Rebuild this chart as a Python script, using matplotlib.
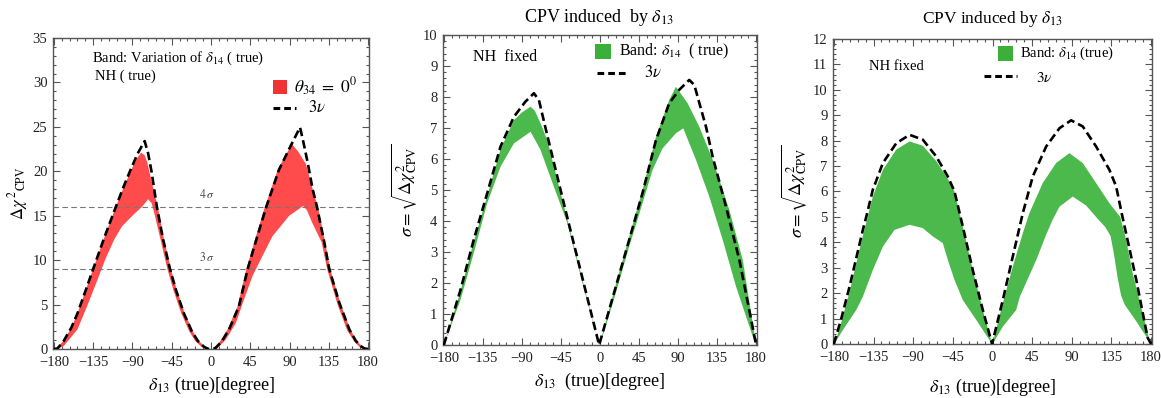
import numpy as np
import matplotlib
matplotlib.use("Agg")
import matplotlib.pyplot as plt
from matplotlib.patches import Rectangle
from matplotlib.lines import Line2D
from matplotlib.ticker import MultipleLocator

plt.rcParams['font.family'] = ['Liberation Serif', 'DejaVu Serif']
plt.rcParams['mathtext.fontset'] = 'stix'

W, H = 1161, 398

# ---------------- Panel 1 : Delta chi^2 ----------------
p1_3nu_x = [-180, -176, -169, -160, -153, -145, -135, -122, -109, -100, -92, -84, -76, -72, -68, -62,
            -55, -47, -40, -31, -22, -15, -8, -3, 0, 5, 12, 20.7, 32, 42, 51, 63, 78, 91.5, 102, 106,
            110.7, 116.4, 121.4, 129.8, 135.5, 147, 158.5, 166, 172, 176, 180]
p1_3nu_y = [0, 0.05, 0.86, 2.4, 4.0, 6.2, 9.0, 12.6, 16.0, 18.3, 20.2, 22.0, 23.4, 22.0, 19.9, 16.0,
            12.4, 9.0, 6.6, 4.0, 2.0, 0.9, 0.25, 0.0, 0.02, 0.1, 0.8, 2.2, 4.8, 9.0, 12.0, 15.9, 20.2, 22.9,
            24.95, 23.2, 21.0, 18.0, 16.0, 12.0, 9.0, 5.2, 2.2, 0.9, 0.3, 0.05, 0.0]

p1_b1_up_x = [-178, -169, -160, -153, -145, -135, -122, -109, -100, -92, -86, -80, -76, -73, -67, -61,
              -54, -46, -39, -30, -21, -14, -7, -2]
p1_b1_up_y = [0, 0.9, 2.4, 4.0, 6.2, 9.0, 12.6, 16.0, 18.2, 20.0, 21.3, 22.1, 21.8, 21.0, 18.4, 16.0,
              12.4, 9.0, 6.6, 4.0, 2.0, 0.9, 0.25, 0]
p1_b1_lo_x = [-178, -169, -153, -142, -130, -121, -111, -102, -88, -79, -72, -68, -65, -58, -50, -43,
              -34, -25, -18, -11, -5]
p1_b1_lo_y = [0, 0.3, 2.2, 4.8, 7.8, 10.1, 12.3, 13.8, 15.2, 16.0, 16.86, 16.4, 15.3, 12.4, 9.0, 6.6,
              4.0, 2.0, 0.9, 0.25, 0]

p1_b2_up_x = [2, 10, 19, 30.5, 40.5, 49.5, 61.5, 76.5, 92.7, 100, 108.8, 116.4, 122.4, 130.8, 136.5,
              148, 159.5, 167, 173, 178]
p1_b2_up_y = [0, 0.8, 2.2, 4.8, 9.0, 12.0, 15.9, 20.2, 23.07, 22.2, 20.8, 18.0, 16.0, 12.0, 9.0,
              5.2, 2.2, 0.9, 0.3, 0]
p1_b2_lo_x = [3, 7, 16.9, 28.4, 37.9, 47.5, 57.1, 70.5, 89.6, 105.7, 110, 116, 126.8, 133, 145, 156,
              164, 170, 175]
p1_b2_lo_y = [0, 0.05, 1.05, 2.9, 5.6, 8.2, 10.1, 12.7, 15.0, 16.1, 15.6, 14.2, 12.0, 9.0, 5.0, 2.1,
              0.85, 0.25, 0]

# ---------------- Panel 2 : sigma (first CPV plot) ----------------
p2_3nu_x = [-180, -160.9, -145.6, -130.1, -114.7, -99.3, -86, -76.2, -70.4, -60.7, -37.6, -18.4, -1,
            18.2, 33.6, 49.0, 64.4, 79.8, 91.3, 102.9, 108.7, 122.2, 129.9, 145.3, 160.7, 180]
p2_3nu_y = [0, 1.77, 3.39, 4.89, 6.4, 7.36, 7.85, 8.12, 7.9, 6.75, 4.1, 1.95, 0,
            1.88, 3.39, 4.9, 6.6, 7.8, 8.23, 8.55, 8.39, 7.04, 6.07, 4.46, 2.74, 0]

p2_b1_up_x = [-180, -160.9, -145.6, -130.1, -114.7, -99.3, -90, -80, -75, -68.5, -60.7, -37.6, -18.4, -1]
p2_b1_up_y = [0, 1.72, 3.32, 4.8, 6.3, 7.25, 7.5, 7.69, 7.55, 7.15, 6.6, 4.05, 1.9, 0]
p2_b1_lo_x = [-180, -160.9, -145.6, -130.1, -114.7, -99.3, -80, -68.5, -53.1, -37.6, -18.4, -1]
p2_b1_lo_y = [0, 1.45, 2.96, 4.57, 5.75, 6.5, 6.88, 6.29, 5.1, 3.93, 1.8, 0]

p2_b2_up_x = [-0.5, 18.2, 33.6, 49, 64.4, 79.8, 87.5, 101, 114.5, 130, 149.2, 164.6, 180]
p2_b2_up_y = [0, 1.95, 3.48, 5.0, 6.7, 7.9, 8.33, 7.8, 7.04, 5.97, 4.35, 2.74, 0]
p2_b2_lo_x = [0, 18.2, 33.6, 49, 60.6, 72.1, 87.5, 96, 110.7, 126.1, 141.5, 156.9, 177, 180]
p2_b2_lo_y = [0, 1.67, 3.17, 4.57, 5.65, 6.34, 6.83, 6.99, 5.97, 4.78, 3.39, 1.88, 0.2, 0]

# ---------------- Panel 3 : sigma (second CPV plot) ----------------
p3_3nu_x = [-180, -171.6, -162.2, -147.1, -143.3, -135.8, -124.4, -109.2, -94.1, -79.1, -63.9, -50.7,
            -43.1, -33.7, -22.4, -11, -0.5, 11.7, 23, 34.4, 45.7, 60.9, 76, 89.2, 102.4, 117.6, 132.7,
            140.3, 147.5, 163, 176, 180]
p3_3nu_y = [0, 1.0, 2.26, 4.49, 5.0, 6.07, 7.12, 7.9, 8.23, 8.04, 7.38, 6.59,
            6.0, 4.62, 2.91, 1.34, 0, 1.73, 3.44, 5.15, 6.59, 7.77, 8.49, 8.8, 8.56, 7.77, 6.85,
            6.2, 5.0, 2.55, 0.25, 0]

p3_b1_up_x = [-179, -171.6, -162.2, -147.1, -135.8, -124.4, -109.2, -94.1, -79.1, -63.9, -50.7, -43.1,
              -33.7, -22.4, -11, -0.5]
p3_b1_up_y = [0, 0.85, 2.05, 4.25, 5.8, 6.85, 7.65, 7.97, 7.8, 7.2, 6.5, 6.0,
              4.62, 2.91, 1.34, 0]
p3_b1_lo_x = [-179.5, -169.8, -154.6, -147.1, -135.8, -124.4, -111.2, -94.1, -79.1, -67.7, -56.4, -50.7,
              -43.1, -33.7, -18.5, -0.5]
p3_b1_lo_y = [0, 0.55, 1.34, 1.86, 2.91, 3.83, 4.49, 4.69, 4.56, 4.23, 3.97, 3.31,
              2.52, 1.73, 0.95, 0]

p3_b2_up_x = [0, 11.7, 23, 34.4, 41.9, 57, 72.2, 87.3, 102.4, 117.6, 132.7, 145, 151.6, 159.1, 170.5,
              178, 180]
p3_b2_up_y = [0, 1.6, 3.04, 4.36, 5.15, 6.33, 7.12, 7.51, 7.12, 6.33, 5.54, 5.0, 4.1, 2.78, 1.21,
              0.17, 0]
p3_b2_lo_x = [0, 11.7, 26.9, 31, 38, 49.6, 60.9, 68.4, 76, 91.1, 106.2, 120, 128, 134, 138, 142, 146,
              150, 163, 180]
p3_b2_lo_y = [0, 0.68, 1.34, 1.86, 2.4, 3.3, 4.3, 4.9, 5.4, 5.8, 5.45, 4.9, 4.6, 4.25, 3.5, 2.6, 1.9,
              1.55, 0.9, 0]

xticks = [-180, -135, -90, -45, 0, 45, 90, 135, 180]
sigma_levels = [16, 9]
sigma_labels = [r'$4\,\sigma$', r'$3\,\sigma$']

RED = '#ff4b4b'
RED_KEY = '#f03232'
GREEN = '#4cb94c'
GREEN_KEY = '#3aaf3a'
FRAME = '#555555'
DASH = (0, (3.2, 1.6))

fig = plt.figure(figsize=(W / 100, H / 100), dpi=100)


def box(l, t, r, b):
    return [l / W, 1 - b / H, (r - l) / W, (b - t) / H]


def fxy(px, py):
    return px / W, 1 - py / H


def style(ax, ymax, ymajor, yminor):
    ax.set_xlim(-181, 181)
    ax.set_ylim(0, ymax)
    ax.set_xticks(xticks)
    ax.xaxis.set_minor_locator(MultipleLocator(9))
    ax.yaxis.set_major_locator(MultipleLocator(ymajor))
    ax.yaxis.set_minor_locator(MultipleLocator(yminor))
    ax.tick_params(which='both', direction='in', top=True, right=True, colors=FRAME,
                   labelcolor='#222222', labelsize=10.5, width=0.8)
    ax.tick_params(which='major', length=5)
    ax.tick_params(which='minor', length=2.5)
    ax.tick_params(axis='x', which='major', pad=5)
    ax.tick_params(axis='y', which='major', pad=4)
    for s in ax.spines.values():
        s.set_color(FRAME)
        s.set_linewidth(1.0)


def band(ax, ux, uy, lx, ly, color):
    ax.fill(np.concatenate([ux, lx[::-1]]), np.concatenate([uy, ly[::-1]]),
            color=color, lw=0, zorder=2)


# ---- Panel 1
ax1 = fig.add_axes(box(53, 38, 369, 349))
style(ax1, 35, 5, 1)
band(ax1, np.array(p1_b1_up_x), np.array(p1_b1_up_y), np.array(p1_b1_lo_x), np.array(p1_b1_lo_y), RED)
band(ax1, np.array(p1_b2_up_x), np.array(p1_b2_up_y), np.array(p1_b2_lo_x), np.array(p1_b2_lo_y), RED)
ax1.plot(p1_3nu_x, p1_3nu_y, color='black', lw=1.9, ls=DASH, zorder=4)
for lev, lab in zip(sigma_levels, sigma_labels):
    ax1.axhline(lev, color='#777777', lw=0.8, ls=(0, (5, 3)), zorder=3)
    ax1.text(-5, lev + 0.6, lab, fontsize=8.5, color='#444444', ha='center', va='bottom')
ax1.set_xlabel(r'$\delta_{13}$ (true)[degree]', fontsize=13, labelpad=4)
ax1.set_ylabel(r'$\Delta\chi^{\,2}{}_{\rm CPV}$', fontsize=12, labelpad=2)
fig.text(*fxy(92, 58), r'Band: Variation of $\delta_{14}$ ( true)', fontsize=10.5, va='center', ha='left')
fig.text(*fxy(95, 76), 'NH ( true)', fontsize=10.5, va='center', ha='left')
fig.add_artist(Rectangle(fxy(272.5, 94), 14.5 / W, 14.5 / H, transform=fig.transFigure,
                         facecolor=RED_KEY, edgecolor='none'))
fig.text(*fxy(294, 87), r'$\theta_{34}\ =\ 0^0$', fontsize=12.5, va='center', ha='left')
x0, y0 = fxy(272.5, 108)
x1, _ = fxy(296, 108)
fig.add_artist(Line2D([x0, x1], [y0, y0], transform=fig.transFigure, color='black', lw=2.2,
                      ls=(0, (2.2, 1.3))))
fig.text(*fxy(308, 108), r'$3\nu$', fontsize=12, va='center', ha='left')

# ---- Panel 2
ax2 = fig.add_axes(box(443, 35, 757, 345))
style(ax2, 10, 1, 0.2)
band(ax2, np.array(p2_b1_up_x), np.array(p2_b1_up_y), np.array(p2_b1_lo_x), np.array(p2_b1_lo_y), GREEN)
band(ax2, np.array(p2_b2_up_x), np.array(p2_b2_up_y), np.array(p2_b2_lo_x), np.array(p2_b2_lo_y), GREEN)
ax2.plot(p2_3nu_x, p2_3nu_y, color='black', lw=1.9, ls=DASH, zorder=4)
ax2.set_xlabel(r'$\delta_{13}$  (true)[degree]', fontsize=13, labelpad=4)
ax2.set_ylabel(r'$\sigma=\sqrt{\Delta\chi^2_{\rm CPV}}$', fontsize=13, labelpad=3)
fig.text(*fxy(599, 17), r'CPV induced  by $\delta_{13}$', fontsize=13, ha='center', va='center')
fig.text(*fxy(473, 57), 'NH  fixed', fontsize=11.5, va='center', ha='left')
fig.add_artist(Rectangle(fxy(595.5, 58.5), 16 / W, 15 / H, transform=fig.transFigure,
                         facecolor=GREEN_KEY, edgecolor='none'))
fig.text(*fxy(619, 51), r'Band: $\delta_{14}$  ( true)', fontsize=11.5, va='center', ha='left')
x0, y0 = fxy(596.5, 73)
x1, _ = fxy(628, 73)
fig.add_artist(Line2D([x0, x1], [y0, y0], transform=fig.transFigure, color='black', lw=2.2,
                      ls=(0, (2.2, 1.3))))
fig.text(*fxy(644, 73), r'$3\nu$', fontsize=12, va='center', ha='left')

# ---- Panel 3
ax3 = fig.add_axes(box(833, 39, 1152, 344))
style(ax3, 12, 1, 0.2)
band(ax3, np.array(p3_b1_up_x), np.array(p3_b1_up_y), np.array(p3_b1_lo_x), np.array(p3_b1_lo_y), GREEN)
band(ax3, np.array(p3_b2_up_x), np.array(p3_b2_up_y), np.array(p3_b2_lo_x), np.array(p3_b2_lo_y), GREEN)
ax3.plot(p3_3nu_x, p3_3nu_y, color='black', lw=1.9, ls=DASH, zorder=4)
ax3.set_xlabel(r'$\delta_{13}$ (true)[degree]', fontsize=13, labelpad=9)
ax3.set_ylabel(r'$\sigma=\sqrt{\Delta\chi^2_{\rm CPV}}$', fontsize=13, labelpad=3)
fig.text(*fxy(992, 19), r'CPV induced by $\delta_{13}$', fontsize=12.5, ha='center', va='center')
fig.text(*fxy(869, 66), 'NH fixed', fontsize=10.5, va='center', ha='left')
fig.add_artist(Rectangle(fxy(998, 61), 15 / W, 14.5 / H, transform=fig.transFigure,
                         facecolor=GREEN_KEY, edgecolor='none'))
fig.text(*fxy(1020, 53), r'Band: $\delta_{14}$ (true)', fontsize=10.5, va='center', ha='left')
x0, y0 = fxy(984, 76)
x1, _ = fxy(1017, 76)
fig.add_artist(Line2D([x0, x1], [y0, y0], transform=fig.transFigure, color='black', lw=2.2,
                      ls=(0, (2.2, 1.3))))
fig.text(*fxy(1036, 78), r'$3\nu$', fontsize=11, va='center', ha='left')

fig.savefig('out.png', dpi=100)
